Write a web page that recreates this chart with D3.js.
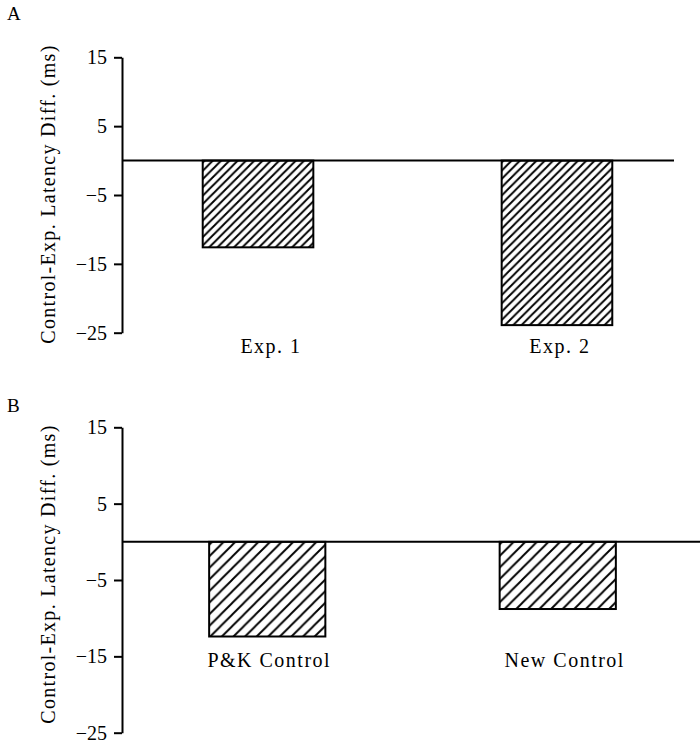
<!DOCTYPE html>
<html>
<meta charset="UTF-8">
<head>
    <script src="https://d3js.org/d3.v7.min.js"></script>
    <style>
        body {
            margin: 0;
            background: white;
        }
        svg text {
            font-family: "Liberation Serif", "Times New Roman", Times, serif;
            fill: #000;
        }
    </style>
</head>
<body>
</body>
<script>
    // panel A
    let catsA = ["Exp. 1", "Exp. 2"];
    let valsA = [-12.6, -23.9];

    // panel B
    let catsB = ["P&K Control", "New Control"];
    let valsB = [-12.4, -8.8];

    let yTicks = [15, 5, -5, -15, -25];
    let yDomain = [-25, 15];
    let yTitle = "Control-Exp. Latency Diff. (ms)";

    const serif = '"Liberation Serif", "Times New Roman", Times, serif';

    let svg = d3.select("body").append("svg")
        .attr("width", 700)
        .attr("height", 742);

    let defs = svg.append("defs");

    function hatch(id, s) {
        let p = defs.append("pattern")
            .attr("id", id)
            .attr("patternUnits", "userSpaceOnUse")
            .attr("width", s)
            .attr("height", s);
        p.append("rect").attr("width", s).attr("height", s).attr("fill", "white");
        p.append("path")
            .attr("d", `M-2,2 L2,-2 M0,${s} L${s},0 M${s - 2},${s + 2} L${s + 2},${s - 2}`)
            .attr("stroke", "black")
            .attr("stroke-width", 1.9);
    }

    function drawPanel(opt, cats, vals) {
        let g = svg.append("g");

        let y = d3.scaleLinear()
            .domain(yDomain)
            .range([opt.bottom, opt.top]);

        let x = d3.scaleBand()
            .domain(cats)
            .range(opt.xRange)
            .paddingInner(opt.pi)
            .paddingOuter(opt.po);

        hatch("hatch" + opt.name, opt.hatch);

        // panel letter
        g.append("text")
            .attr("x", 7)
            .attr("y", opt.letterY)
            .style("font-family", serif)
            .style("font-size", "19px")
            .text(opt.name);

        // y axis
        let ax = g.append("g")
            .attr("transform", `translate(${opt.xRange[0]},0)`)
            .call(d3.axisLeft(y).tickValues(yTicks).tickSize(8).tickSizeOuter(0).tickPadding(7));
        ax.attr("font-family", null).attr("font-size", null);
        ax.select(".domain").attr("stroke", "black").attr("stroke-width", 2);
        ax.selectAll(".tick line").attr("stroke", "black").attr("stroke-width", 2);
        ax.selectAll(".tick text")
            .style("font-family", serif)
            .style("font-size", "20px")
            .attr("fill", "#000");

        // y title
        g.append("text")
            .attr("transform", `translate(55,${opt.titleY}) rotate(-90)`)
            .attr("text-anchor", "middle")
            .style("font-family", serif)
            .style("font-size", "20px")
            .style("letter-spacing", "1.3px")
            .text(yTitle);

        // bars
        g.selectAll(".bar")
            .data(cats)
            .join("rect")
            .attr("class", "bar")
            .attr("x", d => x(d))
            .attr("width", x.bandwidth())
            .attr("y", (d, i) => y(Math.max(0, vals[i])))
            .attr("height", (d, i) => Math.abs(y(vals[i]) - y(0)))
            .attr("fill", `url(#hatch${opt.name})`)
            .attr("stroke", "black")
            .attr("stroke-width", 2);

        // zero line
        g.append("line")
            .attr("x1", opt.xRange[0])
            .attr("x2", opt.zeroEnd)
            .attr("y1", y(0))
            .attr("y2", y(0))
            .attr("stroke", "black")
            .attr("stroke-width", 2);

        // category labels
        g.selectAll(".cat")
            .data(cats)
            .join("text")
            .attr("class", "cat")
            .attr("x", (d, i) => x(d) + x.bandwidth() / 2 + opt.labelDx[i])
            .attr("y", opt.labelY)
            .attr("text-anchor", "middle")
            .style("font-family", serif)
            .style("font-size", "20px")
            .style("letter-spacing", "1.5px")
            .text(d => d);
    }

    drawPanel({
        name: "A", top: 57.3, bottom: 332.7, xRange: [122, 693], pi: 0.63, po: 0.27,
        hatch: 8.3, letterY: 20, labelY: 353, titleY: 194, zeroEnd: 674, labelDx: [13, 3]
    }, catsA, valsA);

    drawPanel({
        name: "B", top: 427.3, bottom: 732.7, xRange: [122, 703], pi: 0.6, po: 0.3,
        hatch: 11.6, letterY: 412, labelY: 667, titleY: 574, zeroEnd: 700, labelDx: [2, 7]
    }, catsB, valsB);
</script>
</html>
